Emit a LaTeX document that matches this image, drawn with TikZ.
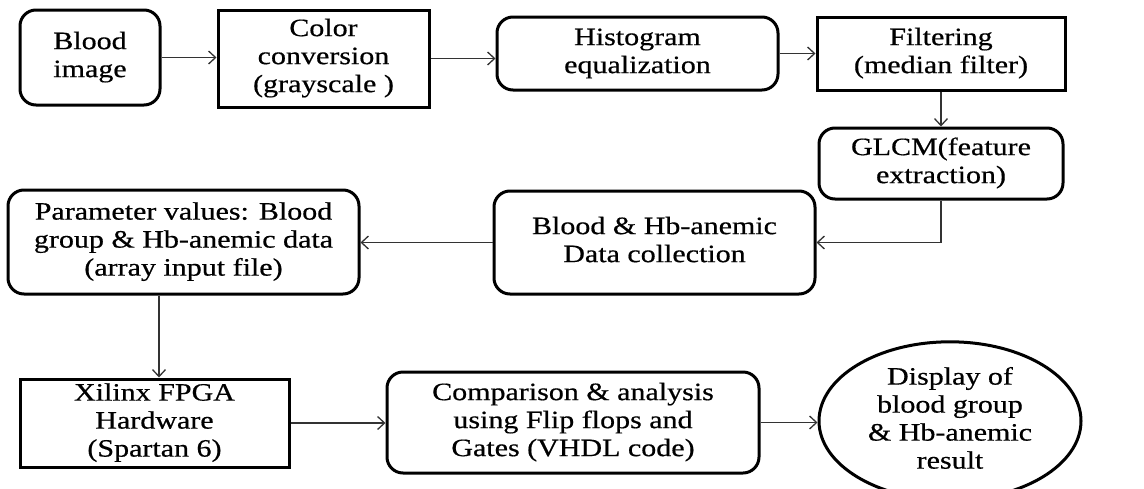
\documentclass[tikz,border=0pt]{standalone}
\usepackage{fontspec}
\setmainfont{Liberation Serif}
\newfontfamily\tnr[FakeBold=0.5]{Liberation Serif}
\usepackage{graphicx}
\usetikzlibrary{arrows.meta,shapes.geometric,calc}
\newcommand{\tx}[1]{\scalebox{1.2}[1]{\begin{tabular}{@{}c@{}}#1\end{tabular}}}
\begin{document}
\begin{tikzpicture}[x=1pt,y=-1pt,
  base/.style={draw=black,line width=3pt,inner sep=0pt,align=center,
    font=\tnr\fontsize{25}{28}\selectfont},
  rbox/.style={base,rectangle,rounded corners=16pt},
  sbox/.style={base,rectangle},
  ebox/.style={base,ellipse},
  conn/.style={draw=black!80,line width=1.5pt,
    -{Straight Barb[length=7pt,width=13pt,line width=1.3pt]}}]
\useasboundingbox (0,0) rectangle (1144,488);
\node[rbox,minimum width=140pt,minimum height=95pt] (b1) at (90,57.5) {\tx{Blood\\image}};
\node[sbox,minimum width=211pt,minimum height=97pt] (b2) at (323.5,58.5) {\tx{Color\\conversion\\(grayscale )}};
\node[rbox,minimum width=281pt,minimum height=73pt] (b3) at (637.5,53.5) {\tx{Histogram\\equalization}};
\node[sbox,minimum width=248pt,minimum height=73pt] (b4) at (941,53.5) {\tx{Filtering\\(median filter)}};
\node[rbox,minimum width=244pt,minimum height=71pt] (b5) at (941,163.5) {\tx{GLCM(feature\\extraction)}};
\node[rbox,minimum width=321pt,minimum height=103pt] (b6) at (654.5,242.5) {\tx{Blood \& Hb-anemic\\Data collection}};
\node[rbox,minimum width=351pt,minimum height=104pt] (b7) at (183.5,242) {\tx{Parameter values: Blood\\group \& Hb-anemic data\\(array input file)}};
\node[sbox,minimum width=269pt,minimum height=88pt] (b8) at (154.5,423) {\tx{Xilinx FPGA\\Hardware\\(Spartan 6)}};
\node[rbox,minimum width=372pt,minimum height=101pt] (b9) at (573,422.5) {\tx{Comparison \& analysis\\using Flip flops and\\Gates (VHDL code)}};
\node[ebox,minimum width=262pt,minimum height=130pt] (b10) at (950,421) {\tx{Display of\\blood group\\\& Hb-anemic\\result}};
\draw[conn] (b1.east) -- (b2.west |- b1.east);
\draw[conn] (b2.east) -- (b3.west |- b2.east);
\draw[conn] (b3.east) -- (b4.west |- b3.east);
\draw[conn] (b4.south) -- (b5.north);
\draw[conn] (b5.south) |- (b6.east);
\draw[conn] (b6.west) -- (b7.east |- b6.west);
\draw[conn] ([xshift=4.5pt]b8.north |- b7.south) -- ([xshift=4.5pt]b8.north);
\draw[conn] (b8.east) -- (b9.west |- b8.east);
\draw[conn] (b9.east) -- (b10.west |- b9.east);
\end{tikzpicture}
\end{document}
